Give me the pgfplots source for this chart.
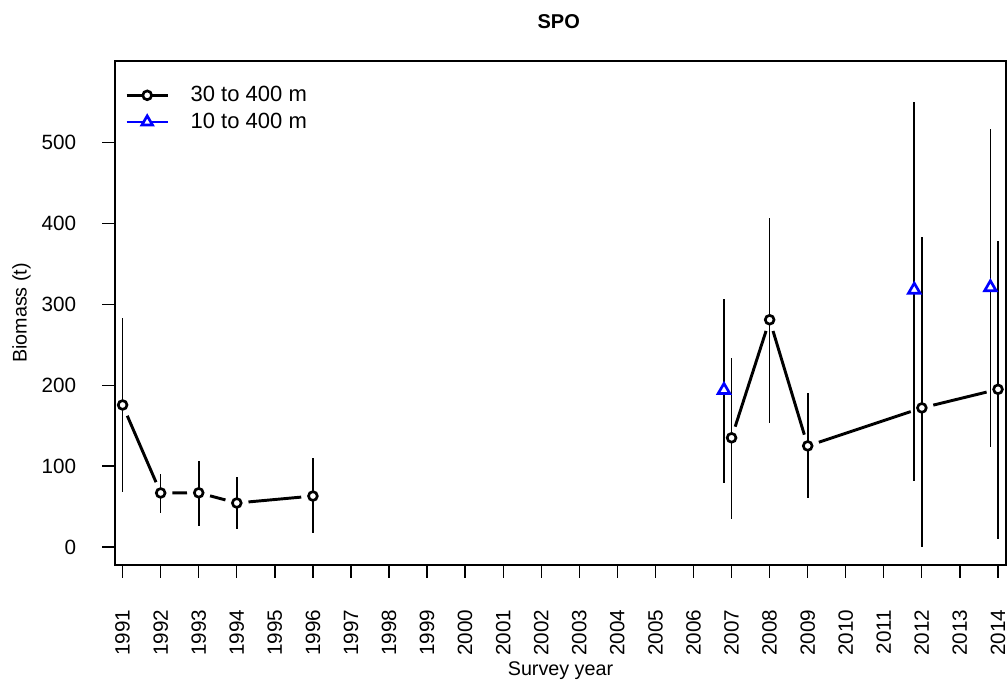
\documentclass[border=0pt]{standalone}
\usepackage{pgfplots}
\usepackage{pgfplotstable}
\pgfplotsset{compat=1.18}
\usepackage{fontspec}
\setmainfont{Liberation Sans}

\pgfplotstableread{
x y lo hi
1991 175.6 68 283
1992 66.8 42 90
1993 67 26 106
1994 54.4 22 86.6
1996 63 17 110
2007 135 35 234
2008 281 153 407
2009 125 61 190
2012 172 0 383
2014 195 10 378
}\deep

\pgfplotstableread{
x y lo hi
2006.8 194 79 307
2011.8 318 82 550
2013.8 321 124 517
}\shallow

\begin{document}
\begin{tikzpicture}
\useasboundingbox (0,0) rectangle (755.25pt,-509.25pt);
\begin{axis}[
  at={(86.25pt,-423.75pt)}, anchor=south west,
  scale only axis, width=668.25pt, height=378pt,
  xmin=1990.8, xmax=2014.21, ymin=-22.3, ymax=601,
  axis on top,
  axis line style={line width=1pt},
  tick style={black, line width=1pt},
  tick align=outside, major tick length=9.5pt,
  xtick pos=bottom, ytick pos=left,
  xtick={1991,...,2014}, ytick={0,100,...,500},
  /pgf/number format/.cd, 1000 sep={}, assume math mode=true, /pgfplots/.cd,
  xticklabel style={font=\fontsize{15.5}{18}\selectfont, rotate=90, anchor=east, inner sep=0pt},
  yticklabel style={font=\fontsize{15.5}{18}\selectfont, anchor=east, inner sep=0pt},
  xticklabel shift=24pt, yticklabel shift=19.5pt,
  title={\textbf{SPO}},
  title style={font=\fontsize{15}{18}\selectfont, at={(axis description cs:0.498,1.049)}, anchor=base, inner sep=0pt},
  xlabel={Survey year},
  xlabel style={font=\fontsize{14.8}{18}\selectfont, at={(axis description cs:0.5,-0.22)}, anchor=base, inner sep=0pt},
  ylabel={Biomass (t)},
  ylabel style={font=\fontsize{14.8}{18}\selectfont, at={(axis description cs:-0.105,0.5)}, anchor=center, rotate=0},
  legend style={draw=none, fill=none, font=\fontsize{16.5}{19}\selectfont,
    at={(axis description cs:0.011,0.955)}, anchor=north west,
    inner sep=0pt, row sep=3pt, column sep=14pt},
  legend cell align=left,
  seg/.style={forget plot, black, line width=2.2pt, no marks, shorten <=8.8pt, shorten >=8.8pt},
]
% connecting line segments (with gaps round the points)
\addplot[seg] coordinates {(1991,175.6) (1992,66.8)};
\addplot[seg] coordinates {(1992,66.8) (1993,67)};
\addplot[seg] coordinates {(1993,67) (1994,54.4)};
\addplot[seg] coordinates {(1994,54.4) (1996,63)};
\addplot[seg] coordinates {(2007,135) (2008,281)};
\addplot[seg] coordinates {(2008,281) (2009,125)};
\addplot[seg] coordinates {(2009,125) (2012,172)};
\addplot[seg] coordinates {(2012,172) (2014,195)};
% error bars
\addplot[forget plot, only marks, mark=none,
  error bars/.cd, y dir=both, y explicit, error mark=none,
  error bar style={black, line width=1.2pt}]
  table[x=x, y=y, y error plus expr=\thisrow{hi}-\thisrow{y}, y error minus expr=\thisrow{y}-\thisrow{lo}] {\deep};
\addplot[forget plot, only marks, mark=none,
  error bars/.cd, y dir=both, y explicit, error mark=none,
  error bar style={black, line width=1.2pt}]
  table[x=x, y=y, y error plus expr=\thisrow{hi}-\thisrow{y}, y error minus expr=\thisrow{y}-\thisrow{lo}] {\shallow};
% markers
\addplot[forget plot, only marks, black, mark=*, mark size=3.3pt, mark options={draw=black, fill=white, line width=2pt}] table[x=x,y=y] {\deep};
\addplot[forget plot, only marks, blue, mark=triangle*, mark size=5pt, mark options={draw=blue, fill=white, line width=2pt}] table[x=x,y=y] {\shallow};
% legend
\addlegendimage{legend image code/.code={
  \draw[black, line width=2.2pt] (0pt,0pt) -- (31pt,0pt);
  \draw[black, line width=2pt, fill=white] (15.5pt,0pt) circle (3.3pt);}}
\addlegendentry{30 to 400 m}
\addlegendimage{legend image code/.code={
  \draw[blue, line width=2.2pt] (0pt,0pt) -- (31pt,0pt);
  \draw[blue, line width=2pt, fill=white] (15.5pt,4.6pt) -- (19.5pt,-2.3pt) -- (11.5pt,-2.3pt) -- cycle;}}
\addlegendentry{10 to 400 m}
\end{axis}
\end{tikzpicture}
\end{document}
